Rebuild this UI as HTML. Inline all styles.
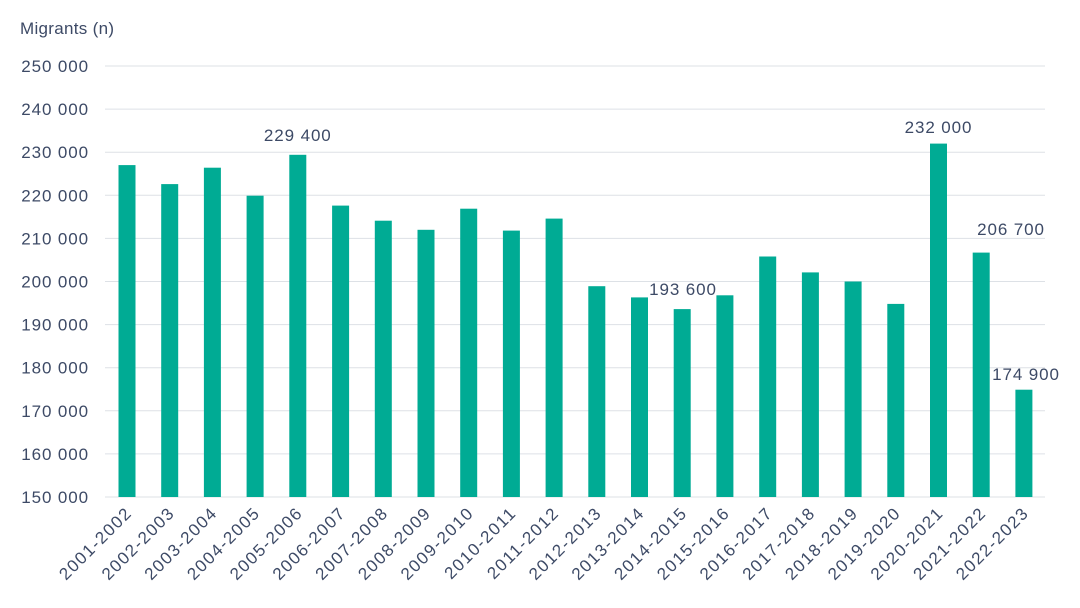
<!DOCTYPE html>
<html><head><meta charset="utf-8"><style>
body{margin:0;background:#fff;}
svg text{font-family:"Liberation Sans",sans-serif;fill:#3d4a66;}
</style></head><body>
<svg width="1080" height="603" xmlns="http://www.w3.org/2000/svg">
<text x="20" y="34" font-size="17" letter-spacing="0.3">Migrants (n)</text>
<g stroke="#dde1e6" stroke-width="1">
<line x1="105" x2="1045" y1="497" y2="497"/>
<line x1="105" x2="1045" y1="453.9" y2="453.9"/>
<line x1="105" x2="1045" y1="410.8" y2="410.8"/>
<line x1="105" x2="1045" y1="367.7" y2="367.7"/>
<line x1="105" x2="1045" y1="324.6" y2="324.6"/>
<line x1="105" x2="1045" y1="281.5" y2="281.5"/>
<line x1="105" x2="1045" y1="238.4" y2="238.4"/>
<line x1="105" x2="1045" y1="195.3" y2="195.3"/>
<line x1="105" x2="1045" y1="152.2" y2="152.2"/>
<line x1="105" x2="1045" y1="109.1" y2="109.1"/>
<line x1="105" x2="1045" y1="66" y2="66"/>
</g>
<g font-size="17" text-anchor="end" letter-spacing="0.9">
<text x="89" y="503">150 000</text>
<text x="89" y="459.9">160 000</text>
<text x="89" y="416.8">170 000</text>
<text x="89" y="373.7">180 000</text>
<text x="89" y="330.6">190 000</text>
<text x="89" y="287.5">200 000</text>
<text x="89" y="244.4">210 000</text>
<text x="89" y="201.3">220 000</text>
<text x="89" y="158.2">230 000</text>
<text x="89" y="115.1">240 000</text>
<text x="89" y="72">250 000</text>
</g>
<g fill="#00ab94">
<rect x="118.5" y="165.1" width="17" height="331.9"/>
<rect x="161.2" y="184.1" width="17" height="312.9"/>
<rect x="203.9" y="167.7" width="17" height="329.3"/>
<rect x="246.6" y="195.7" width="17" height="301.3"/>
<rect x="289.3" y="154.8" width="17" height="342.2"/>
<rect x="332.1" y="205.6" width="17" height="291.4"/>
<rect x="374.8" y="220.7" width="17" height="276.3"/>
<rect x="417.5" y="229.8" width="17" height="267.2"/>
<rect x="460.2" y="208.7" width="17" height="288.3"/>
<rect x="502.9" y="230.6" width="17" height="266.4"/>
<rect x="545.6" y="218.6" width="17" height="278.4"/>
<rect x="588.3" y="286.2" width="17" height="210.8"/>
<rect x="631" y="297.4" width="17" height="199.6"/>
<rect x="673.7" y="309.1" width="17" height="187.9"/>
<rect x="716.4" y="295.3" width="17" height="201.7"/>
<rect x="759.2" y="256.5" width="17" height="240.5"/>
<rect x="801.9" y="272.4" width="17" height="224.6"/>
<rect x="844.6" y="281.5" width="17" height="215.5"/>
<rect x="887.3" y="303.9" width="17" height="193.1"/>
<rect x="930" y="143.6" width="17" height="353.4"/>
<rect x="972.7" y="252.6" width="17" height="244.4"/>
<rect x="1015.4" y="389.7" width="17" height="107.3"/>
</g>
<g font-size="17" text-anchor="middle" letter-spacing="0.9">
<text x="297.8" y="141">229 400</text>
<text x="683" y="295">193 600</text>
<text x="938.5" y="133">232 000</text>
<text x="1011" y="235">206 700</text>
<text x="1026" y="380">174 900</text>
</g>
<g font-size="17" text-anchor="end" letter-spacing="1.5">
<text transform="translate(133,514) rotate(-45)">2001-2002</text>
<text transform="translate(175.7,514) rotate(-45)">2002-2003</text>
<text transform="translate(218.4,514) rotate(-45)">2003-2004</text>
<text transform="translate(261.1,514) rotate(-45)">2004-2005</text>
<text transform="translate(303.8,514) rotate(-45)">2005-2006</text>
<text transform="translate(346.6,514) rotate(-45)">2006-2007</text>
<text transform="translate(389.3,514) rotate(-45)">2007-2008</text>
<text transform="translate(432,514) rotate(-45)">2008-2009</text>
<text transform="translate(474.7,514) rotate(-45)">2009-2010</text>
<text transform="translate(517.4,514) rotate(-45)">2010-2011</text>
<text transform="translate(560.1,514) rotate(-45)">2011-2012</text>
<text transform="translate(602.8,514) rotate(-45)">2012-2013</text>
<text transform="translate(645.5,514) rotate(-45)">2013-2014</text>
<text transform="translate(688.2,514) rotate(-45)">2014-2015</text>
<text transform="translate(730.9,514) rotate(-45)">2015-2016</text>
<text transform="translate(773.7,514) rotate(-45)">2016-2017</text>
<text transform="translate(816.4,514) rotate(-45)">2017-2018</text>
<text transform="translate(859.1,514) rotate(-45)">2018-2019</text>
<text transform="translate(901.8,514) rotate(-45)">2019-2020</text>
<text transform="translate(944.5,514) rotate(-45)">2020-2021</text>
<text transform="translate(987.2,514) rotate(-45)">2021-2022</text>
<text transform="translate(1029.9,514) rotate(-45)">2022-2023</text>
</g>
</svg>
</body></html>
